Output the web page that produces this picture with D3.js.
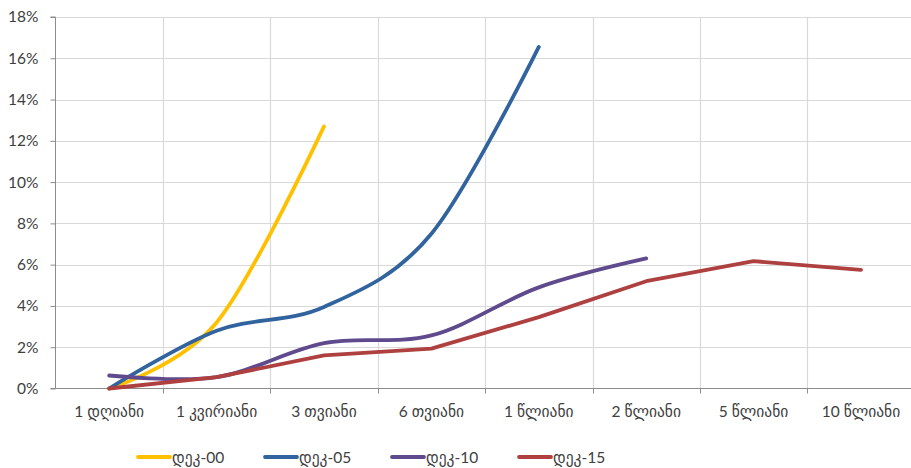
<!DOCTYPE html>
<html>
<head>
<meta charset="utf-8">
<script src="https://cdn.jsdelivr.net/npm/d3@7"></script>
<style>
  html, body { margin: 0; padding: 0; background: #fff; }
  svg { display: block; }
  text { font-family: "Lato", "DejaVu Sans", sans-serif; fill: #404040; }
</style>
</head>
<body>
<svg id="chart" width="911" height="468"></svg>
<script>
// Maturity buckets along the x axis
const categories = ["1 დღიანი", "1 კვირიანი", "3 თვიანი", "6 თვიანი", "1 წლიანი", "2 წლიანი", "5 წლიანი", "10 წლიანი"];

// Yield curves (percent), one array per date; missing maturities are null
const dec00 = [0.0, 3.2, 12.7, null, null, null, null, null];
const dec05 = [0.0, 2.8, 3.95, 7.5, 16.55, null, null, null];
const dec10 = [0.63, 0.55, 2.2, 2.57, 4.9, 6.3, null, null];
const dec15 = [0.0, 0.55, 1.6, 1.93, 3.46, 5.2, 6.17, 5.75];

const seriesNames = ["დეკ-00", "დეკ-05", "დეკ-10", "დეკ-15"];
const seriesColors = ["#FFC000", "#31649E", "#5E4A8C", "#AE4040"];
const seriesSmooth = [true, true, true, false];
const seriesValues = [dec00, dec05, dec10, dec15];

const yTicks = [0, 2, 4, 6, 8, 10, 12, 14, 16, 18];

(function () {
  const svg = d3.select("#chart");
  const W = 911;
  const padLeft = 55.5, padTop = 17, baseY = 388.5;
  const bandW = 107.4;

  const x = d3.scaleBand().domain(categories).range([padLeft, padLeft + bandW * categories.length]).padding(0);
  const y = d3.scaleLinear().domain([0, 18]).range([baseY, padTop]);

  // Horizontal gridlines
  svg.append("g").selectAll("line").data(yTicks.filter(d => d > 0)).join("line")
    .attr("x1", padLeft).attr("x2", W)
    .attr("y1", d => Math.round(y(d)) + 0.5).attr("y2", d => Math.round(y(d)) + 0.5)
    .attr("stroke", "#d9d9d9").attr("stroke-width", 1.2);

  // Vertical gridlines at category boundaries
  const bounds = categories.slice(1).map(c => x(c));
  svg.append("g").selectAll("line").data(bounds).join("line")
    .attr("x1", d => Math.round(d) + 0.5).attr("x2", d => Math.round(d) + 0.5)
    .attr("y1", padTop).attr("y2", baseY)
    .attr("stroke", "#d9d9d9").attr("stroke-width", 1.2);

  // Y axis
  const yAxis = d3.axisLeft(y).tickValues(yTicks).tickFormat(d => d + "%").tickSize(5).tickPadding(12);
  const gy = svg.append("g").attr("transform", `translate(${padLeft},0)`).call(yAxis);
  gy.select(".domain").attr("stroke", "#8c8c8c").attr("d", `M-5,${padTop}H0V${baseY}H-5`);
  gy.selectAll(".tick line").attr("stroke", "#8c8c8c");
  gy.selectAll(".tick text").attr("font-size", 15.5).style("fill", "#404040")
    .attr("font-family", "Lato, 'DejaVu Sans', sans-serif");

  // X axis line and tick marks at boundaries
  svg.append("line").attr("x1", padLeft).attr("x2", W).attr("y1", baseY).attr("y2", baseY)
    .attr("stroke", "#8c8c8c").attr("stroke-width", 1);
  svg.append("g").selectAll("line").data(bounds).join("line")
    .attr("x1", d => Math.round(d) + 0.5).attr("x2", d => Math.round(d) + 0.5)
    .attr("y1", baseY).attr("y2", baseY + 5)
    .attr("stroke", "#8c8c8c");

  // Category labels
  svg.append("g").selectAll("text").data(categories).join("text")
    .attr("x", d => x(d) + x.bandwidth() / 2)
    .attr("y", 417)
    .attr("text-anchor", "middle")
    .attr("font-size", 15.5)
    .text(d => d);

  // Series lines
  const cx = d => x(d) + x.bandwidth() / 2;
  seriesValues.forEach((vals, i) => {
    const pts = vals.map((v, j) => [categories[j], v]).filter(p => p[1] !== null);
    const line = d3.line()
      .x(p => cx(p[0]))
      .y(p => y(p[1]))
      .curve(seriesSmooth[i] ? d3.curveCardinal.tension(0) : d3.curveLinear);
    svg.append("path").datum(pts)
      .attr("d", line)
      .attr("fill", "none")
      .attr("stroke", seriesColors[i])
      .attr("stroke-width", 3.8)
      .attr("stroke-linecap", "round")
      .attr("stroke-linejoin", "round");
  });

  // Legend
  const legendX = [138, 265, 392, 519];
  const lg = svg.append("g");
  seriesNames.forEach((name, i) => {
    lg.append("line")
      .attr("x1", legendX[i]).attr("x2", legendX[i] + 32)
      .attr("y1", 457).attr("y2", 457)
      .attr("stroke", seriesColors[i]).attr("stroke-width", 3.8)
      .attr("stroke-linecap", "round");
    lg.append("text")
      .attr("x", legendX[i] + 34).attr("y", 463)
      .attr("font-size", 15.5)
      .text(name);
  });
})();
</script>
</body>
</html>
